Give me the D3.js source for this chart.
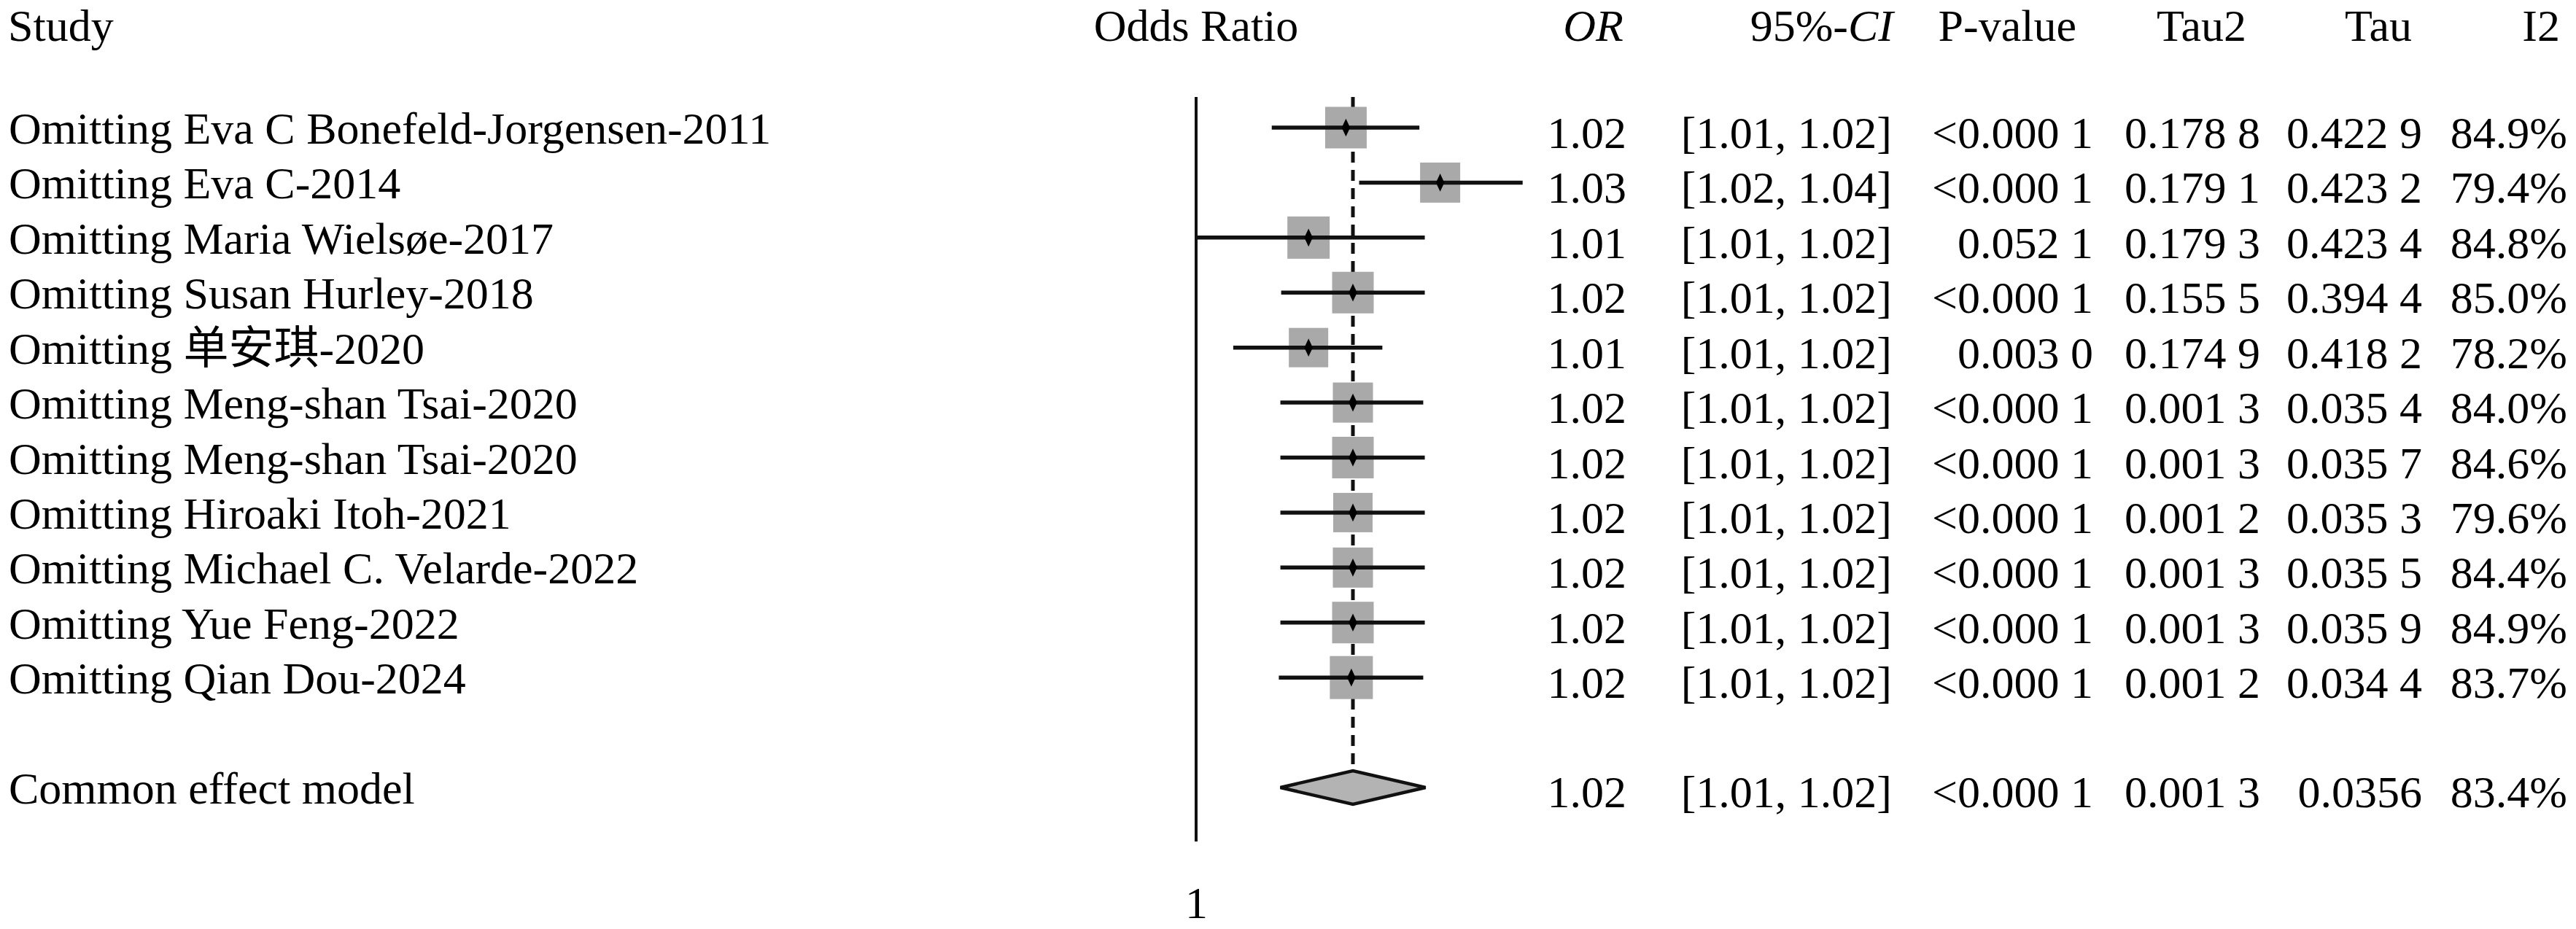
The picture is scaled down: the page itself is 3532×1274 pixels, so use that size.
<!DOCTYPE html>
<html>
<head>
<meta charset="utf-8">
<script src="https://cdn.jsdelivr.net/npm/d3@7"></script>
<style>
    html, body { margin: 0; padding: 0; background: #fff; }
    svg { display: block; }
    text { font-family: "Liberation Serif", "Times New Roman", "Noto Sans CJK SC", serif; fill: #000; }
</style>
</head>
<body>
<div id="chart"></div>
<script>
// Данные
const studies = [
    "Omitting Eva C Bonefeld-Jorgensen-2011",
    "Omitting Eva C-2014",
    "Omitting Maria Wielsøe-2017",
    "Omitting Susan Hurley-2018",
    "Omitting 单安琪-2020",
    "Omitting Meng-shan Tsai-2020",
    "Omitting Meng-shan Tsai-2020",
    "Omitting Hiroaki Itoh-2021",
    "Omitting Michael C. Velarde-2022",
    "Omitting Yue Feng-2022",
    "Omitting Qian Dou-2024"
];

// точки и границы ДИ, как они нарисованы
const orEst  = [1.0191, 1.0313, 1.0143, 1.0200, 1.0143, 1.0200, 1.0200, 1.0200, 1.0200, 1.0200, 1.0198];
const ciLow  = [1.0096, 1.0208, 1.0001, 1.0108, 1.0047, 1.0107, 1.0107, 1.0107, 1.0107, 1.0107, 1.0105];
const ciHigh = [1.0286, 1.0421, 1.0293, 1.0293, 1.0238, 1.0291, 1.0293, 1.0293, 1.0293, 1.0293, 1.0291];
const weights = [9.35, 8.71, 9.68, 9.35, 8.39, 8.71, 9.35, 8.39, 8.71, 9.35, 10.02];

// сводная оценка
const pooledLabel = "Common effect model";
const pooledEst = 1.0200;
const pooledLow = 1.0107;
const pooledHigh = 1.0294;

// текстовые столбцы
const orText   = ["1.02", "1.03", "1.01", "1.02", "1.01", "1.02", "1.02", "1.02", "1.02", "1.02", "1.02"];
const ciText   = ["[1.01, 1.02]", "[1.02, 1.04]", "[1.01, 1.02]", "[1.01, 1.02]", "[1.01, 1.02]", "[1.01, 1.02]",
                  "[1.01, 1.02]", "[1.01, 1.02]", "[1.01, 1.02]", "[1.01, 1.02]", "[1.01, 1.02]"];
const pText    = ["<0.000 1", "<0.000 1", "0.052 1", "<0.000 1", "0.003 0", "<0.000 1",
                  "<0.000 1", "<0.000 1", "<0.000 1", "<0.000 1", "<0.000 1"];
const tau2Text = ["0.178 8", "0.179 1", "0.179 3", "0.155 5", "0.174 9", "0.001 3",
                  "0.001 3", "0.001 2", "0.001 3", "0.001 3", "0.001 2"];
const tauText  = ["0.422 9", "0.423 2", "0.423 4", "0.394 4", "0.418 2", "0.035 4",
                  "0.035 7", "0.035 3", "0.035 5", "0.035 9", "0.034 4"];
const i2Text   = ["84.9%", "79.4%", "84.8%", "85.0%", "78.2%", "84.0%", "84.6%", "79.6%", "84.4%", "84.9%", "83.7%"];
const pooledText = ["1.02", "[1.01, 1.02]", "<0.000 1", "0.001 3", "0.0356", "83.4%"];

const tickValues = [1];

const width = 3532;
const height = 1274;
const fontSize = 62;

const svg = d3.select("#chart").append("svg")
    .attr("width", width)
    .attr("height", height);

svg.append("rect").attr("width", width).attr("height", height).attr("fill", "#fff");

// Шкалы
const x = d3.scaleLog().domain([1, 1.02]).range([1640, 1855]);
const y = d3.scaleLinear().domain([0, 12]).range([175, 1080]);
const boxSize = d3.scaleSqrt().domain([0, d3.max(weights)]).range([0, 59]);

const rows = studies.map((name, i) => ({
    name, i,
    est: orEst[i], lo: ciLow[i], hi: ciHigh[i], w: weights[i],
    cols: [orText[i], ciText[i], pText[i], tau2Text[i], tauText[i], i2Text[i]]
}));
const pooledRow = 12;

// Заголовки
const headerY = 56;
svg.append("text").attr("x", 11).attr("y", headerY).attr("font-size", fontSize).text("Study");
svg.append("text").attr("x", x(1)).attr("y", headerY).attr("text-anchor", "middle")
    .attr("font-size", fontSize).text("Odds Ratio");

const columns = [
    { hx: 2226, vx: 2230 },
    { hx: 2596, vx: 2594 },
    { hx: 2847, vx: 2870 },
    { hx: 3080, vx: 3099 },
    { hx: 3307, vx: 3321 },
    { hx: 3510, vx: 3520 }
];

svg.append("text").attr("x", columns[0].hx).attr("y", headerY).attr("text-anchor", "end")
    .attr("font-size", fontSize).attr("font-style", "italic").text("OR");
const ciHead = svg.append("text").attr("x", columns[1].hx).attr("y", headerY).attr("text-anchor", "end")
    .attr("font-size", fontSize);
ciHead.append("tspan").text("95%-");
ciHead.append("tspan").attr("font-style", "italic").text("CI");
["P-value", "Tau2", "Tau", "I2"].forEach((h, k) => {
    svg.append("text").attr("x", columns[k + 2].hx).attr("y", headerY).attr("text-anchor", "end")
        .attr("font-size", fontSize).text(h);
});

// Вертикальная линия OR = 1 и пунктир сводной оценки
svg.append("line")
    .attr("x1", x(1)).attr("x2", x(1))
    .attr("y1", 133).attr("y2", 1154)
    .attr("stroke", "#111").attr("stroke-width", 4);

svg.append("line")
    .attr("x1", x(pooledEst)).attr("x2", x(pooledEst))
    .attr("y1", 133).attr("y2", y(pooledRow) - 22)
    .attr("stroke", "#111").attr("stroke-width", 5)
    .attr("stroke-dasharray", "15,10");

// Квадраты исследований
svg.append("g").selectAll("rect")
    .data(rows)
    .enter().append("rect")
    .attr("x", d => x(d.est) - boxSize(d.w) / 2)
    .attr("y", d => y(d.i) - boxSize(d.w) / 2)
    .attr("width", d => boxSize(d.w))
    .attr("height", d => boxSize(d.w))
    .attr("fill", "#a9a9a9");

// Доверительные интервалы
svg.append("g").selectAll("line")
    .data(rows)
    .enter().append("line")
    .attr("x1", d => x(d.lo))
    .attr("x2", d => x(d.hi))
    .attr("y1", d => y(d.i))
    .attr("y2", d => y(d.i))
    .attr("stroke", "#111")
    .attr("stroke-width", 5.5);

// Точки оценок
svg.append("g").selectAll("path")
    .data(rows)
    .enter().append("path")
    .attr("d", d3.symbol().type(d3.symbolDiamond).size(160))
    .attr("transform", d => `translate(${x(d.est)},${y(d.i)}) scale(0.85,1.05)`)
    .attr("fill", "#000");

// Ромб сводной оценки
const py = y(pooledRow);
svg.append("path")
    .attr("d", `M${x(pooledLow)},${py} L${x(pooledEst)},${py - 23} L${x(pooledHigh)},${py} L${x(pooledEst)},${py + 23} Z`)
    .attr("fill", "#b3b3b3")
    .attr("stroke", "#111")
    .attr("stroke-width", 4.5)
    .attr("stroke-linejoin", "miter");

// Подписи исследований
svg.append("g").selectAll("text")
    .data(rows)
    .enter().append("text")
    .attr("x", 12)
    .attr("y", d => y(d.i) + 22)
    .attr("font-size", fontSize)
    .text(d => d.name);

svg.append("text").attr("x", 12).attr("y", py + 22).attr("font-size", fontSize).text(pooledLabel);

// Числовые столбцы
columns.forEach((c, k) => {
    svg.append("g").selectAll("text")
        .data(rows)
        .enter().append("text")
        .attr("x", c.vx)
        .attr("y", d => y(d.i) + 28)
        .attr("text-anchor", "end")
        .attr("font-size", fontSize)
        .text(d => d.cols[k]);
    svg.append("text")
        .attr("x", c.vx)
        .attr("y", py + 27)
        .attr("text-anchor", "end")
        .attr("font-size", fontSize)
        .text(pooledText[k]);
});

// Ось X (только подпись 1)
const axis = d3.axisBottom(x).tickValues(tickValues).tickSize(0).tickFormat(d3.format("d"));
const axisG = svg.append("g").attr("transform", "translate(0,1200)").call(axis);
axisG.select(".domain").remove();
axisG.selectAll("text")
    .attr("font-size", fontSize)
    .attr("font-family", null)
    .attr("dy", null)
    .attr("y", 59)
    .attr("fill", "#000");
</script>
</body>
</html>
